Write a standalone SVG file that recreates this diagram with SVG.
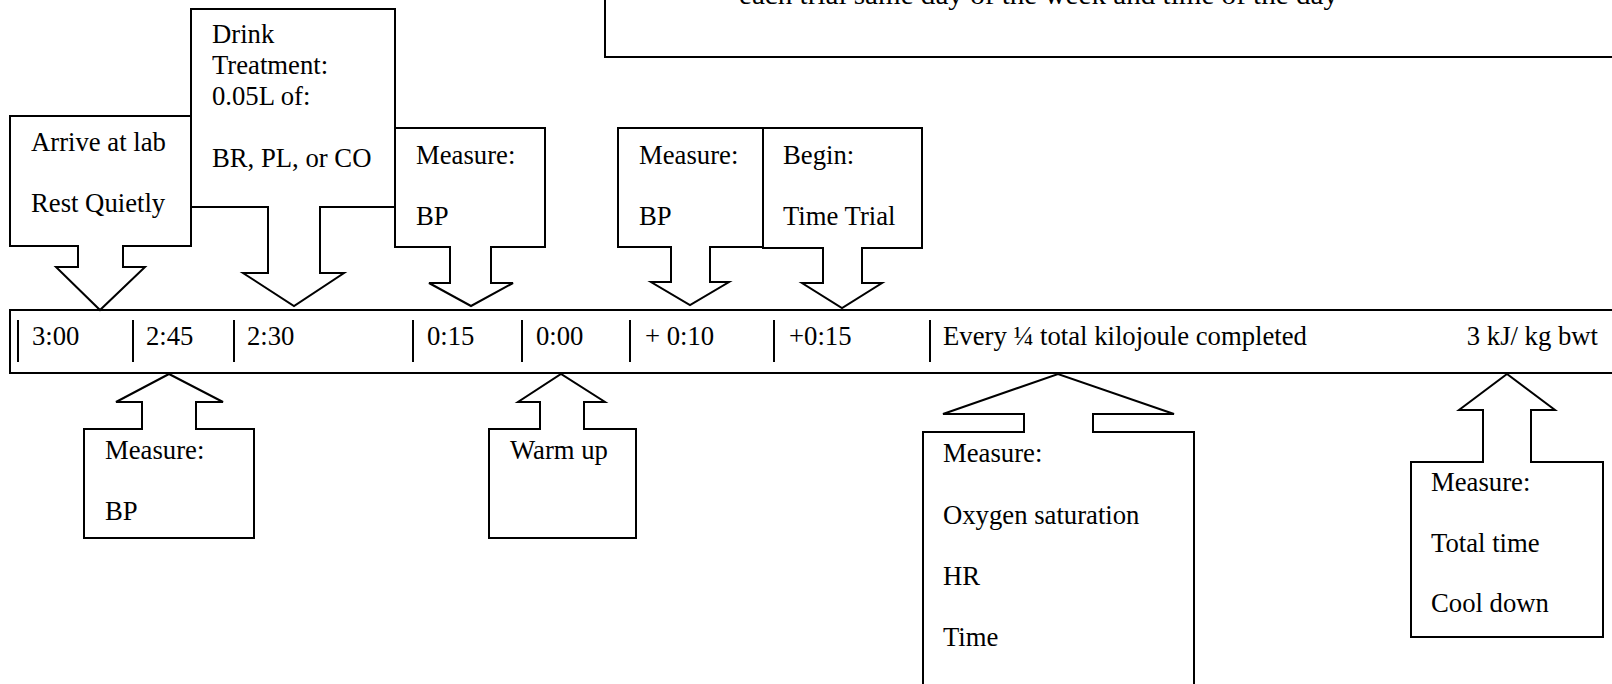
<svg xmlns="http://www.w3.org/2000/svg" width="1612" height="684" viewBox="0 0 1612 684">
<style>
.s{fill:#fff;stroke:#000;stroke-width:2;stroke-linejoin:miter}
.t{font-family:"Liberation Serif","Times New Roman",serif;font-size:26.7px;fill:#000}
.tk{stroke:#000;stroke-width:2}
</style>
<rect width="1612" height="684" fill="#fff"/>
<g id="note">
<rect class="s" x="605" y="-10" width="1020" height="67"/>
<text class="t" x="739" y="4" textLength="599" lengthAdjust="spacingAndGlyphs">each trial same day of the week and time of the day</text>
</g>
<g id="timeline">
<rect class="s" x="10" y="310" width="1615" height="63"/>
<line class="tk" x1="18" y1="320" x2="18" y2="362"/>
<line class="tk" x1="133" y1="320" x2="133" y2="362"/>
<line class="tk" x1="234" y1="320" x2="234" y2="362"/>
<line class="tk" x1="413" y1="320" x2="413" y2="362"/>
<line class="tk" x1="522" y1="320" x2="522" y2="362"/>
<line class="tk" x1="630" y1="320" x2="630" y2="362"/>
<line class="tk" x1="774" y1="320" x2="774" y2="362"/>
<line class="tk" x1="930" y1="320" x2="930" y2="362"/>
<text class="t" x="32" y="345">3:00</text>
<text class="t" x="146" y="345">2:45</text>
<text class="t" x="247" y="345">2:30</text>
<text class="t" x="427" y="345">0:15</text>
<text class="t" x="536" y="345">0:00</text>
<text class="t" x="645" y="345">+ 0:10</text>
<text class="t" x="789" y="345">+0:15</text>
<text class="t" x="943" y="345">Every ¼ total kilojoule completed</text>
<text class="t" x="1598" y="345" text-anchor="end">3 kJ/ kg bwt</text>
</g>
<g id="connectors">
</g>
<g id="arrive">
<path class="s" d="M10,116 H191 V246 H123 V267 H145 L100,310 L56,267 H78 V246 H10 Z"/>
<text class="t" x="31" y="151">Arrive at lab</text>
<text class="t" x="31" y="212">Rest Quietly</text>
</g>
<g id="drink">
<path class="s" d="M191,9 H395 V207 H320 V273 H344 L294,306 L243,273 H268 V207 H191 Z"/>
<text class="t" x="212" y="43">Drink</text>
<text class="t" x="212" y="74">Treatment:</text>
<text class="t" x="212" y="105">0.05L of:</text>
<text class="t" x="212" y="167">BR, PL, or CO</text>
</g>
<g id="measure1">
<path class="s" d="M395,128 H545 V247 H491 V283 H513 L471,306 L429,283 H450 V247 H395 Z"/>
<text class="t" x="416" y="164">Measure:</text>
<text class="t" x="416" y="225">BP</text>
</g>
<g id="measure2">
<path class="s" d="M618,128 H763 V247 H710 V282 H729 L690,305 L651,282 H671 V247 H618 Z"/>
<text class="t" x="639" y="164">Measure:</text>
<text class="t" x="639" y="225">BP</text>
</g>
<g id="begin">
<path class="s" d="M763,128 H922 V248 H862 V283 H882 L842,308 L802,283 H823 V248 H763 Z"/>
<text class="t" x="783" y="164">Begin:</text>
<text class="t" x="783" y="225">Time Trial</text>
</g>
<g id="measure3">
<path class="s" d="M84,538 V429 H142 V402 H116 L169,374 L223,402 H196 V429 H254 V538 Z"/>
<text class="t" x="105" y="459">Measure:</text>
<text class="t" x="105" y="520">BP</text>
</g>
<g id="warmup">
<path class="s" d="M489,538 V429 H540 V402 H518 L561,374 L605,402 H584 V429 H636 V538 Z"/>
<text class="t" x="510" y="459">Warm up</text>
</g>
<g id="measure4">
<path class="s" d="M923,700 V432 H1024 V414 H943 L1058,374 L1174,414 H1093 V432 H1194 V700"/>
<text class="t" x="943" y="462">Measure:</text>
<text class="t" x="943" y="524">Oxygen saturation</text>
<text class="t" x="943" y="585">HR</text>
<text class="t" x="943" y="646">Time</text>
</g>
<g id="measure5">
<path class="s" d="M1411,637 V462 H1483 V410 H1459 L1507,374 L1555,410 H1531 V462 H1603 V637 Z"/>
<text class="t" x="1431" y="491">Measure:</text>
<text class="t" x="1431" y="552">Total time</text>
<text class="t" x="1431" y="612">Cool down</text>
</g>
</svg>
